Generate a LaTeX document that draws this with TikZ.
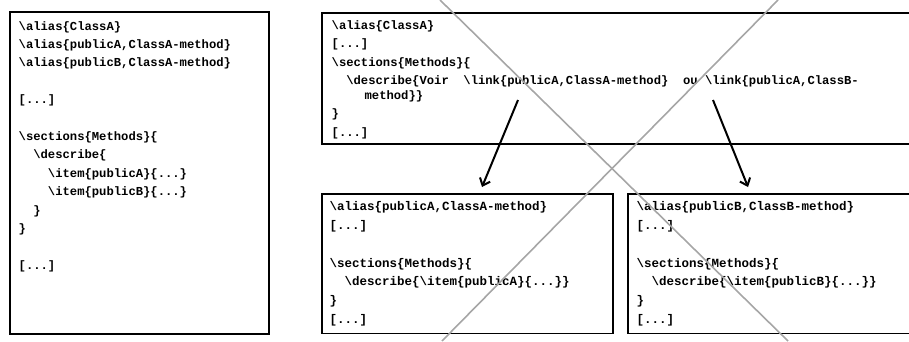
\documentclass[tikz,border=0pt]{standalone}
\usepackage{fontspec}
\setmonofont{Liberation Mono}
\usetikzlibrary{arrows.meta}
\newcommand{\bsl}{\textbackslash}

\begin{document}
\begin{tikzpicture}[x=1pt, y=-1pt,
    codebox/.style={draw, line width=1.8pt, inner sep=0pt, anchor=north west},
    codetext/.style={anchor=north west, inner sep=0pt, align=left,
      font=\ttfamily\bfseries\fontsize{12.2}{18.4}\selectfont},
    smallgap/.style={font=\ttfamily\bfseries\fontsize{12.5}{18.8}\selectfont},
    linkarrow/.style={-{Straight Barb[length=6.5pt,width=11pt]}, line width=2pt},
    strike/.style={draw=black!35, line width=1.6pt}]
  \useasboundingbox (0,0) rectangle (909,341);
  \clip (0,0) rectangle (909,341);

  % boxes
  \node[codebox, minimum width=259pt, minimum height=322pt] (mainBox) at (9,11) {};
  \node[codebox, minimum width=620pt, minimum height=131pt] (linkBox) at (321,12) {};
  \node[codebox, minimum width=291pt, minimum height=139.5pt] (pubABox) at (321,193) {};
  \node[codebox, minimum width=300pt, minimum height=139.5pt] (pubBBox) at (627,193) {};

  % code
  \node[codetext] (mainCode) at ([shift={(9.5,10)}]mainBox.north west) {%
    \bsl alias\{ClassA\}\\
    \bsl alias\{publicA,ClassA-method\}\\
    \bsl alias\{publicB,ClassA-method\}\\[18.4pt]
    {[...]}\\[18.4pt]
    \bsl sections\{Methods\}\{\\
    \hspace*{1.2em}\bsl describe\{\\
    \hspace*{2.4em}\bsl item\{publicA\}\{...\}\\
    \hspace*{2.4em}\bsl item\{publicB\}\{...\}\\
    \hspace*{1.2em}\}\\
    \}\\[18.4pt]
    {[...]}};
  \node[codetext] (linkCode) at ([shift={(10.5,8.5)}]linkBox.north west) {%
    \bsl alias\{ClassA\}\\
    {[...]}\\
    \bsl sections\{Methods\}\{\\
    \hspace*{1.2em}\bsl describe\{Voir\ \ \bsl link\{publicA,ClassA-method\}\ \ ou \bsl link\{publicA,ClassB-\\[-3.8pt]
    \hspace*{2.7em}method\}\}\\
    \}\\
    {[...]}};
  \node[codetext, smallgap] (pubACode) at ([shift={(8.5,8.5)}]pubABox.north west) {%
    \bsl alias\{publicA,ClassA-method\}\\
    {[...]}\\[18.8pt]
    \bsl sections\{Methods\}\{\\
    \hspace*{1.2em}\bsl describe\{\bsl item\{publicA\}\{...\}\}\\
    \}\\
    {[...]}};
  \node[codetext, smallgap] (pubBCode) at ([shift={(9.5,8.5)}]pubBBox.north west) {%
    \bsl alias\{publicB,ClassB-method\}\\
    {[...]}\\[18.8pt]
    \bsl sections\{Methods\}\{\\
    \hspace*{1.2em}\bsl describe\{\bsl item\{publicB\}\{...\}\}\\
    \}\\
    {[...]}};

  % links
  \coordinate (linkA) at (518,100);
  \coordinate (linkB) at (713,100);
  \coordinate (tipA) at (482,187);
  \coordinate (tipB) at (748,187);
  \draw[linkarrow] (linkA) -- (tipA);
  \draw[linkarrow] (linkB) -- (tipB);

  % crossed out
  \draw[strike] (440,0) -- (788,341);
  \draw[strike] (778,0) -- (442,341);
\end{tikzpicture}
\end{document}
